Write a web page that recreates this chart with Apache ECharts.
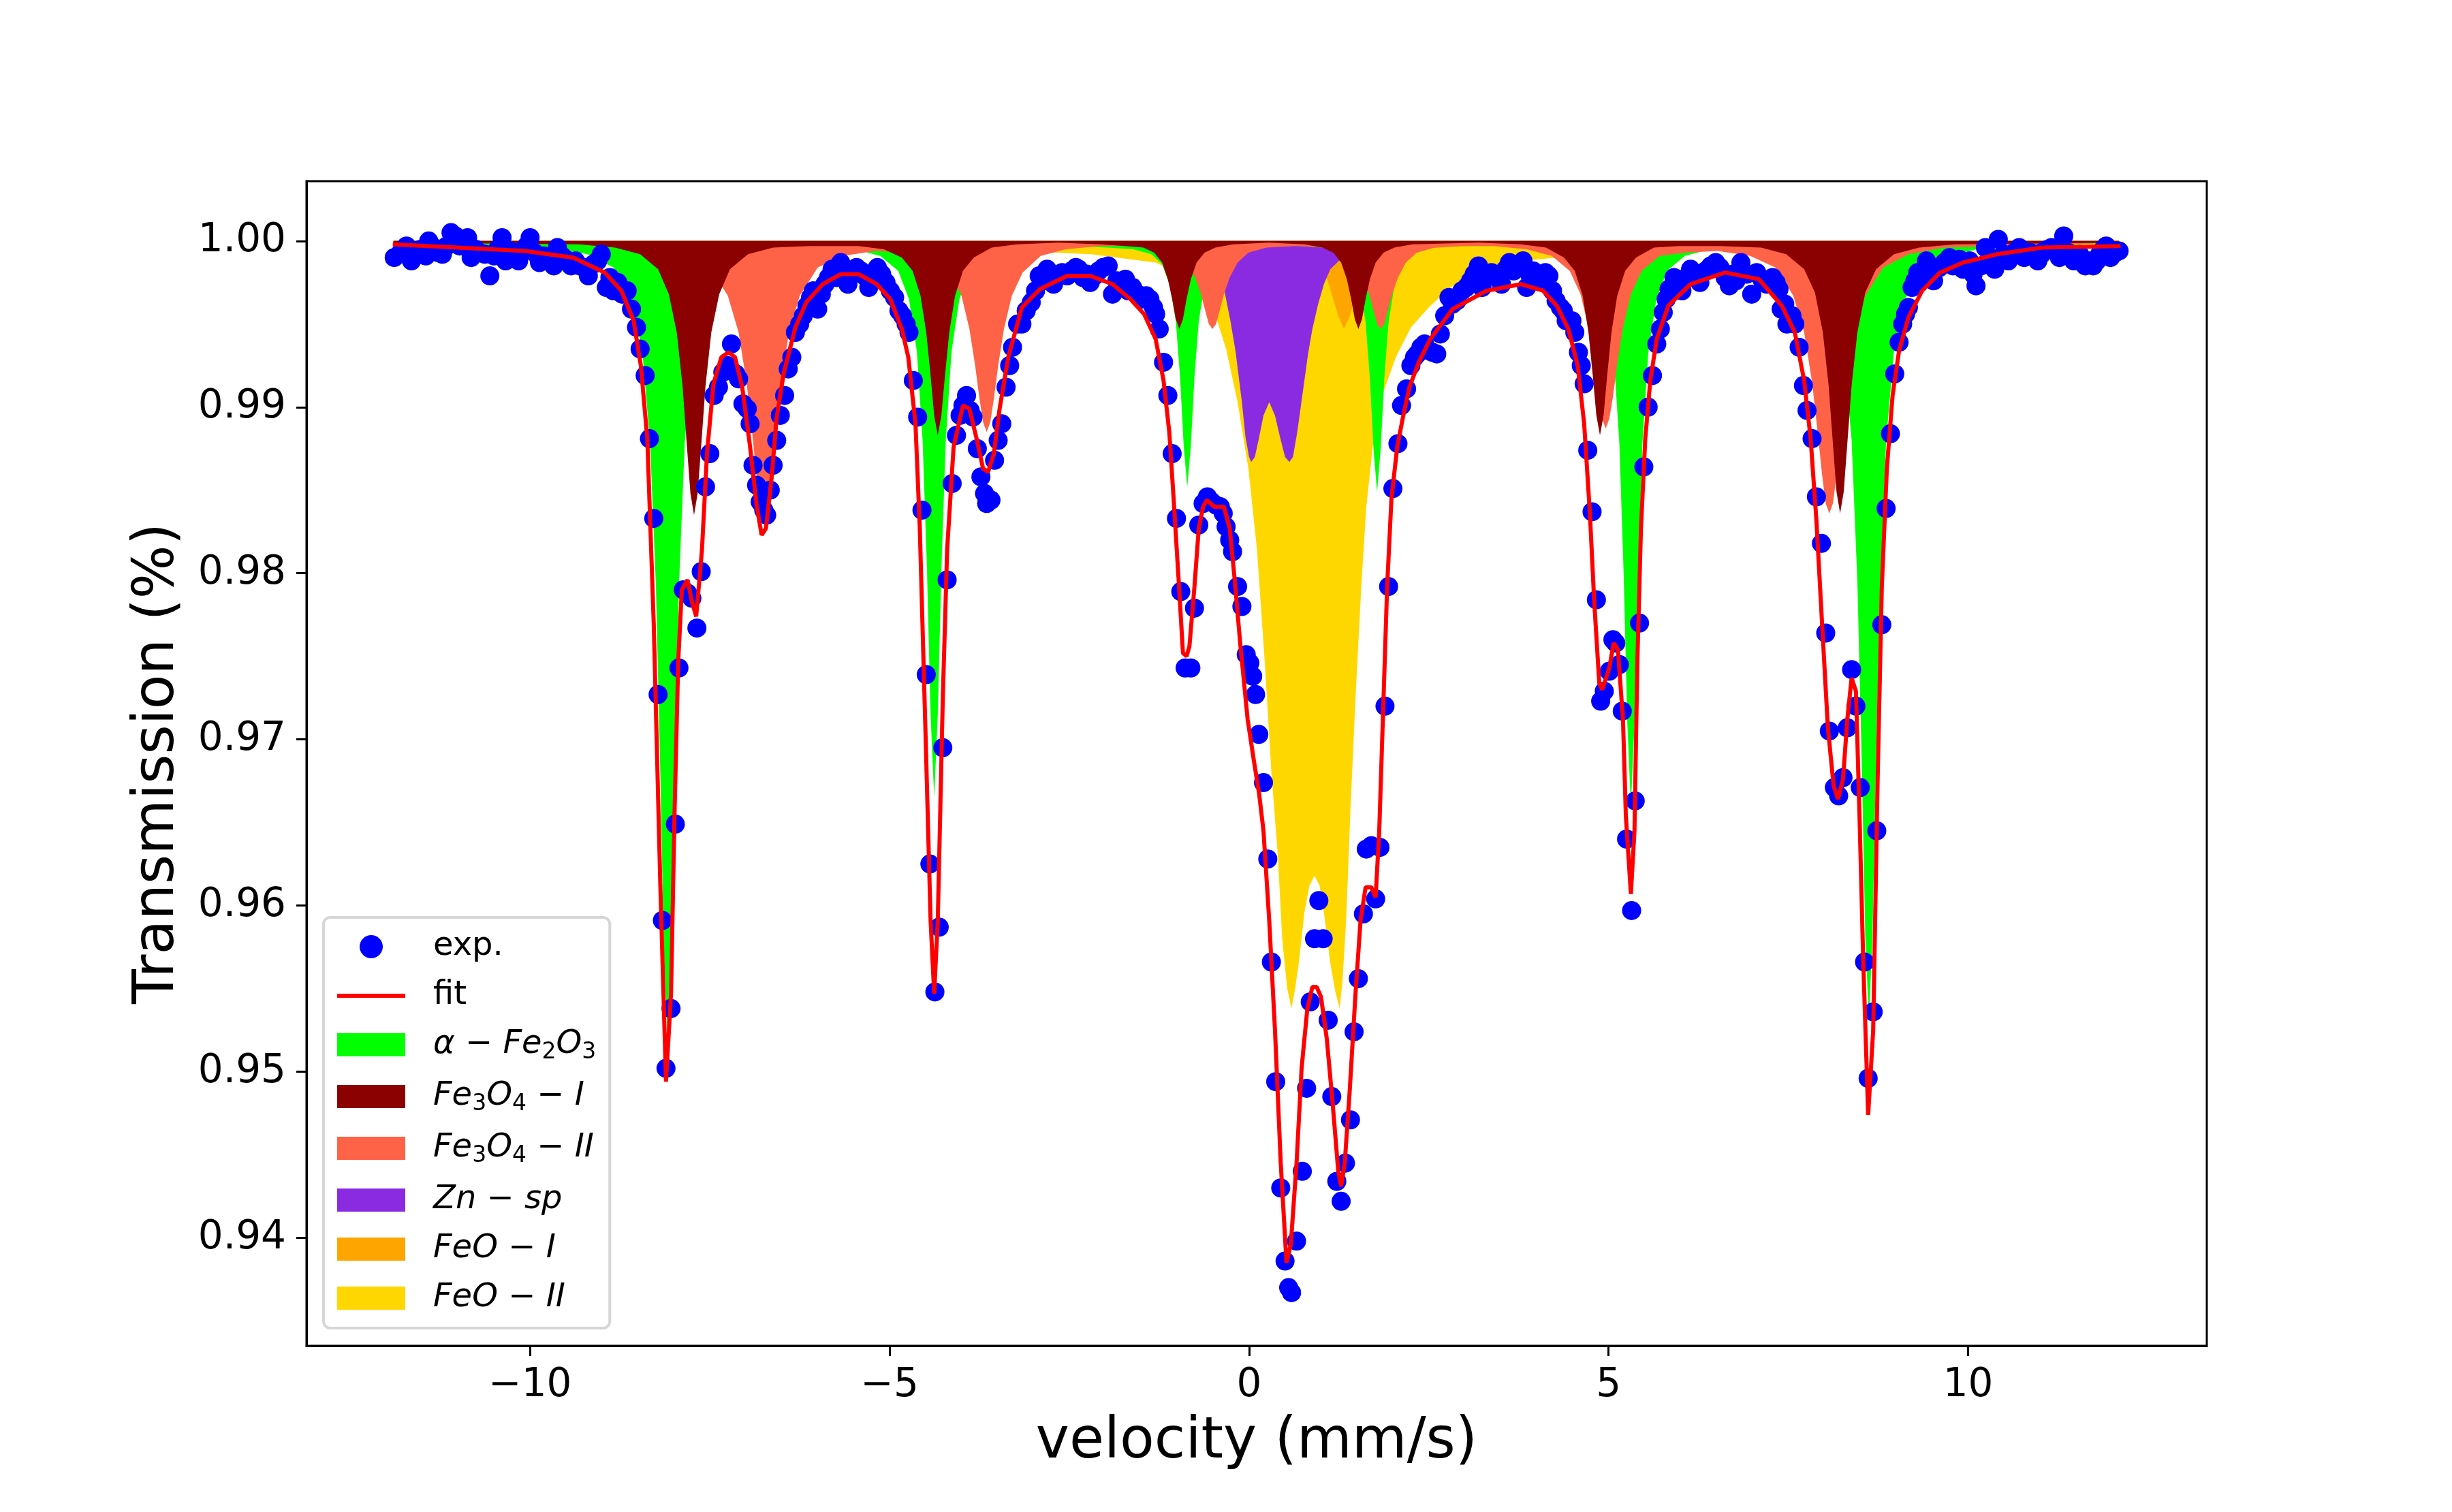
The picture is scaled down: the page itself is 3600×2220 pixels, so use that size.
<!DOCTYPE html>
<html><head><meta charset="utf-8">
<script src="https://cdn.jsdelivr.net/npm/echarts@6/dist/echarts.min.js"></script>
<style>html,body{margin:0;padding:0;background:#fff}#c{width:3600px;height:2220px}</style>
</head><body><div id="c"></div>
<script>
// ---- tick values ----
const xTicks = [-10, -5, 0, 5, 10];
const yTicks = [0.94, 0.95, 0.96, 0.97, 0.98, 0.99, 1.00];

// ---- experimental points [velocity, transmission] ----
const expPoints = [
[-11.89,.9990],[-11.80,.9993],[-11.72,.9997],[-11.65,.9988],[-11.58,.9992],[-11.52,.9995],[-11.45,.9991],[-11.41,1.0000],[-11.34,.9996],[-11.28,.9993],[-11.22,.9992],[-11.16,.9997],[-11.10,1.0005],[-11.04,1.0003],[-10.98,.9997],[-10.92,.9999],[-10.87,1.0002],[-10.82,.9990],[-10.76,.9995],[-10.70,.9993],[-10.63,.9992],[-10.56,.9979],[-10.50,.9991],[-10.45,.9995],[-10.39,1.0002],[-10.34,.9988],[-10.28,.9994],[-10.22,.9993],[-10.16,.9988],[-10.10,.9994],[-10.05,.9997],[-10.00,1.0002],[-9.94,.9993],[-9.87,.9987],[-9.81,.9991],[-9.75,.9990],[-9.67,.9985],[-9.62,.9996],[-9.56,.9991],[-9.50,.9989],[-9.43,.9985],[-9.37,.9988],[-9.31,.9985],[-9.25,.9984],[-9.19,.9979],[-9.12,.9986],[-9.06,.9988],[-9.01,.9992],[-8.94,.9972],[-8.89,.9978],[-8.84,.9970],[-8.78,.9975],[-8.72,.9968],[-8.65,.9970],[-8.59,.9959],[-8.52,.9948],[-8.47,.9935],[-8.40,.9919],[-8.34,.9881],[-8.28,.9833],[-8.22,.9727],[-8.16,.9591],[-8.11,.9502],[-8.04,.9538],[-7.98,.9649],[-7.93,.9743],[-7.87,.9790],[-7.81,.9788],[-7.75,.9785],[-7.68,.9767],[-7.62,.9801],[-7.56,.9852],[-7.50,.9872],[-7.44,.9907],[-7.38,.9912],[-7.32,.9921],[-7.26,.9925],[-7.20,.9938],[-7.14,.9920],[-7.10,.9917],[-7.04,.9902],[-6.98,.9899],[-6.94,.9890],[-6.90,.9865],[-6.85,.9853],[-6.80,.9843],[-6.75,.9838],[-6.71,.9835],[-6.66,.9850],[-6.62,.9865],[-6.57,.9880],[-6.52,.9895],[-6.46,.9907],[-6.41,.9923],[-6.36,.9930],[-6.31,.9945],[-6.25,.9950],[-6.20,.9955],[-6.15,.9961],[-6.10,.9966],[-6.06,.9970],[-6.00,.9959],[-5.95,.9968],[-5.90,.9974],[-5.85,.9978],[-5.80,.9983],[-5.74,.9978],[-5.68,.9987],[-5.63,.9982],[-5.58,.9974],[-5.52,.9980],[-5.46,.9984],[-5.40,.9982],[-5.35,.9979],[-5.29,.9972],[-5.23,.9978],[-5.17,.9984],[-5.11,.9980],[-5.05,.9975],[-4.99,.9970],[-4.93,.9966],[-4.87,.9958],[-4.82,.9955],[-4.77,.9950],[-4.73,.9945],[-4.67,.9916],[-4.61,.9894],[-4.55,.9838],[-4.49,.9739],[-4.44,.9625],[-4.37,.9548],[-4.31,.9587],[-4.26,.9695],[-4.20,.9796],[-4.13,.9854],[-4.07,.9883],[-4.02,.9895],[-3.98,.9901],[-3.93,.9907],[-3.88,.9898],[-3.84,.9894],[-3.78,.9875],[-3.73,.9858],[-3.68,.9848],[-3.65,.9842],[-3.59,.9844],[-3.54,.9868],[-3.49,.9880],[-3.44,.9890],[-3.38,.9912],[-3.33,.9925],[-3.29,.9936],[-3.22,.9950],[-3.16,.9950],[-3.10,.9958],[-3.03,.9963],[-2.97,.9970],[-2.92,.9979],[-2.86,.9976],[-2.81,.9983],[-2.76,.9980],[-2.72,.9974],[-2.66,.9979],[-2.60,.9981],[-2.53,.9979],[-2.47,.9982],[-2.41,.9984],[-2.37,.9983],[-2.31,.9978],[-2.26,.9980],[-2.21,.9975],[-2.15,.9979],[-2.09,.9982],[-2.03,.9984],[-1.96,.9985],[-1.90,.9968],[-1.84,.9976],[-1.77,.9974],[-1.72,.9977],[-1.68,.9970],[-1.62,.9972],[-1.55,.9968],[-1.49,.9965],[-1.43,.9967],[-1.38,.9965],[-1.33,.9960],[-1.30,.9956],[-1.25,.9947],[-1.19,.9927],[-1.13,.9907],[-1.07,.9872],[-1.01,.9833],[-0.95,.9789],[-0.89,.9743],[-0.81,.9743],[-0.76,.9779],[-0.70,.9829],[-0.64,.9842],[-0.58,.9846],[-0.52,.9843],[-0.46,.9841],[-0.40,.9840],[-0.36,.9836],[-0.32,.9828],[-0.27,.9820],[-0.23,.9813],[-0.16,.9792],[-0.10,.9780],[-0.04,.9751],[0.01,.9746],[0.05,.9738],[0.09,.9727],[0.135,.9703],[0.20,.9674],[0.26,.9628],[0.31,.9566],[0.37,.9494],[0.44,.9430],[0.50,.9386],[0.55,.9370],[0.59,.9367],[0.66,.9398],[0.74,.9440],[0.80,.9490],[0.85,.9542],[0.91,.9580],[0.97,.9603],[1.03,.9580],[1.10,.9531],[1.15,.9485],[1.22,.9434],[1.28,.9422],[1.34,.9445],[1.41,.9471],[1.46,.9524],[1.52,.9556],[1.59,.9595],[1.63,.9634],[1.70,.9636],[1.76,.9604],[1.82,.9635],[1.89,.9720],[1.94,.9792],[2.00,.9851],[2.07,.9878],[2.12,.9901],[2.19,.9911],[2.25,.9925],[2.30,.9930],[2.34,.9932],[2.39,.9936],[2.44,.9938],[2.50,.9934],[2.55,.9933],[2.61,.9932],[2.66,.9944],[2.72,.9955],[2.78,.9966],[2.83,.9962],[2.89,.9964],[2.96,.9970],[3.02,.9972],[3.08,.9976],[3.13,.9980],[3.19,.9985],[3.24,.9972],[3.30,.9980],[3.37,.9981],[3.44,.9978],[3.51,.9974],[3.57,.9983],[3.62,.9987],[3.68,.9982],[3.74,.9986],[3.81,.9988],[3.86,.9972],[3.91,.9979],[3.95,.9982],[4.01,.9980],[4.07,.9977],[4.12,.9981],[4.17,.9979],[4.22,.9970],[4.27,.9964],[4.33,.9960],[4.37,.9958],[4.41,.9952],[4.49,.9952],[4.53,.9945],[4.58,.9933],[4.62,.9925],[4.66,.9914],[4.71,.9874],[4.77,.9837],[4.83,.9784],[4.89,.9723],[4.94,.9729],[5.01,.9741],[5.06,.9760],[5.10,.9758],[5.15,.9745],[5.19,.9717],[5.25,.9640],[5.32,.9597],[5.37,.9663],[5.43,.9770],[5.49,.9864],[5.55,.9900],[5.61,.9919],[5.67,.9938],[5.72,.9947],[5.76,.9957],[5.80,.9965],[5.84,.9971],[5.91,.9978],[5.97,.9975],[6.02,.9970],[6.08,.9978],[6.14,.9983],[6.20,.9980],[6.27,.9975],[6.35,.9982],[6.42,.9985],[6.49,.9987],[6.55,.9984],[6.62,.9978],[6.68,.9973],[6.73,.9980],[6.77,.9976],[6.84,.9987],[6.92,.9980],[6.99,.9968],[7.06,.9981],[7.13,.9977],[7.20,.9974],[7.28,.9978],[7.33,.9975],[7.37,.9971],[7.40,.9959],[7.45,.9962],[7.48,.9950],[7.55,.9955],[7.59,.9950],[7.65,.9936],[7.71,.9913],[7.76,.9898],[7.83,.9881],[7.89,.9846],[7.96,.9818],[8.02,.9764],[8.07,.9705],[8.14,.9671],[8.20,.9666],[8.26,.9677],[8.32,.9707],[8.38,.9742],[8.44,.9720],[8.50,.9671],[8.56,.9566],[8.61,.9496],[8.68,.9536],[8.73,.9645],[8.80,.9769],[8.86,.9839],[8.92,.9884],[8.98,.9920],[9.04,.9939],[9.09,.9950],[9.13,.9956],[9.17,.9960],[9.22,.9972],[9.26,.9976],[9.30,.9981],[9.36,.9977],[9.42,.9988],[9.47,.9982],[9.52,.9976],[9.60,.9984],[9.67,.9987],[9.74,.9990],[9.79,.9985],[9.83,.9986],[9.88,.9989],[9.93,.9983],[9.98,.9986],[10.02,.9988],[10.07,.9980],[10.11,.9973],[10.18,.9985],[10.24,.9996],[10.30,.9990],[10.37,.9983],[10.42,1.0001],[10.49,.9992],[10.56,.9988],[10.64,.9993],[10.71,.9996],[10.78,.9990],[10.83,.9993],[10.87,.9993],[10.93,.9990],[10.97,.9988],[11.02,.9992],[11.06,.9994],[11.11,.9995],[11.16,.9996],[11.22,.9994],[11.27,.9990],[11.33,1.0003],[11.40,.9993],[11.47,.9988],[11.51,.9990],[11.55,.9992],[11.59,.9987],[11.63,.9985],[11.68,.9988],[11.74,.9985],[11.79,.9988],[11.83,.9992],[11.88,.9995],[11.92,.9997],[11.98,.9990],[12.05,.9993],[12.10,.9994]
];

// ---- fitted curve ----
const fitPoints = [
[-11.91,.9998],[-11.0,.9996],[-10.07,.9994],[-9.4,.9990],[-8.96,.9981],[-8.73,.9970],[-8.56,.9952],[-8.46,.9925],[-8.37,.9881],[-8.28,.9769],[-8.19,.9614],[-8.11,.9494],[-8.04,.9547],[-7.99,.9658],[-7.94,.9747],[-7.89,.9790],[-7.81,.9796],[-7.75,.9783],[-7.69,.9774],[-7.61,.9814],[-7.54,.9872],[-7.45,.9914],[-7.34,.9930],[-7.24,.9933],[-7.15,.9930],[-7.05,.9912],[-6.94,.9876],[-6.85,.9841],[-6.78,.9823],[-6.72,.9827],[-6.64,.9858],[-6.57,.9894],[-6.47,.9921],[-6.31,.9948],[-6.16,.9963],[-5.93,.9974],[-5.68,.9980],[-5.43,.9980],[-5.18,.9974],[-4.99,.9965],[-4.83,.9947],[-4.74,.9930],[-4.64,.9890],[-4.58,.9827],[-4.50,.9703],[-4.43,.9591],[-4.38,.9547],[-4.33,.9591],[-4.26,.9725],[-4.20,.9814],[-4.11,.9876],[-3.98,.9901],[-3.89,.9899],[-3.79,.9881],[-3.70,.9863],[-3.63,.9861],[-3.55,.9872],[-3.47,.9899],[-3.35,.9930],[-3.16,.9960],[-2.91,.9971],[-2.53,.9979],[-2.21,.9979],[-1.90,.9974],[-1.65,.9965],[-1.46,.9956],[-1.30,.9941],[-1.19,.9916],[-1.11,.9885],[-1.05,.9845],[-0.98,.9796],[-0.92,.9752],[-0.87,.9750],[-0.83,.9756],[-0.76,.9792],[-0.70,.9827],[-0.64,.9840],[-0.59,.9844],[-0.48,.9840],[-0.35,.9840],[-0.27,.9827],[-0.20,.9796],[-0.12,.9756],[-0.02,.9712],[0.06,.9689],[0.14,.9667],[0.20,.9645],[0.28,.9591],[0.36,.9525],[0.44,.9445],[0.52,.9385],[0.58,.9396],[0.66,.9445],[0.73,.9502],[0.81,.9538],[0.88,.9551],[0.94,.9551],[1.00,.9545],[1.08,.9520],[1.16,.9482],[1.24,.9440],[1.28,.9431],[1.33,.9445],[1.40,.9489],[1.48,.9547],[1.55,.9591],[1.62,.9611],[1.70,.9611],[1.76,.9605],[1.81,.9645],[1.87,.9725],[1.92,.9792],[1.98,.9845],[2.06,.9876],[2.14,.9894],[2.23,.9912],[2.36,.9927],[2.52,.9941],[2.83,.9959],[3.30,.9970],[3.78,.9974],[4.09,.9970],[4.28,.9961],[4.44,.9947],[4.57,.9925],[4.66,.9890],[4.74,.9836],[4.80,.9783],[4.87,.9734],[4.91,.9730],[5.01,.9743],[5.07,.9758],[5.13,.9754],[5.20,.9712],[5.24,.9654],[5.31,.9607],[5.36,.9645],[5.40,.9747],[5.45,.9827],[5.51,.9881],[5.58,.9916],[5.67,.9941],[5.83,.9961],[6.14,.9974],[6.62,.9981],[7.09,.9977],[7.41,.9961],[7.59,.9945],[7.72,.9916],[7.81,.9881],[7.89,.9832],[7.97,.9769],[8.05,.9707],[8.13,.9672],[8.19,.9664],[8.26,.9676],[8.32,.9712],[8.38,.9737],[8.44,.9729],[8.49,.9654],[8.54,.9569],[8.61,.9474],[8.68,.9525],[8.74,.9672],[8.80,.9792],[8.87,.9863],[8.95,.9907],[9.04,.9934],[9.17,.9954],[9.36,.9970],[9.61,.9981],[9.93,.9987],[10.40,.9992],[11.03,.9996],[12.12,.9997]
];

// ---- sub-spectra (filled down from 1.0) ----
const alphaFe2O3 = [
[-11.9,.9999],[-9.7,.9996],[-9.2,.9992],[-8.84,.9984],[-8.59,.9965],[-8.44,.9934],[-8.33,.9878],[-8.25,.9792],[-8.19,.9682],[-8.14,.9574],[-8.09,.952],[-8.04,.9574],[-7.99,.9682],[-7.93,.9792],[-7.85,.9878],[-7.74,.9934],[-7.59,.9965],[-7.34,.9984],[-7.0,.9992],[-6.5,.9995],[-6.24,.9996],[-5.98,.9996],[-5.48,.9995],[-5.13,.9991],[-4.88,.9982],[-4.73,.9965],[-4.62,.9933],[-4.54,.9879],[-4.48,.9802],[-4.43,.9715],[-4.38,.9665],[-4.33,.9715],[-4.28,.9802],[-4.22,.9879],[-4.14,.9933],[-4.03,.9965],[-3.88,.9982],[-3.63,.9991],[-3.28,.9995],[-2.78,.9997],[-2.62,.9998],[-2.46,.9997],[-1.96,.9996],[-1.61,.9995],[-1.36,.9992],[-1.21,.9986],[-1.10,.9973],[-1.02,.9952],[-0.96,.9918],[-0.91,.9877],[-0.86,.9852],[-0.81,.9877],[-0.76,.9918],[-0.70,.9952],[-0.62,.9973],[-0.51,.9986],[-0.36,.9992],[-0.11,.9996],[0.24,.9997],[0.46,.9998],[0.68,.9997],[1.03,.9996],[1.28,.9992],[1.43,.9985],[1.54,.9973],[1.62,.9951],[1.68,.9917],[1.73,.9875],[1.78,.9849],[1.83,.9875],[1.88,.9917],[1.94,.9951],[2.02,.9973],[2.13,.9985],[2.28,.9992],[2.53,.9996],[2.88,.9997],[3.38,.9997],[3.55,.9998],[3.71,.9997],[4.21,.9995],[4.56,.9991],[4.81,.9982],[4.96,.9964],[5.07,.9932],[5.15,.9878],[5.21,.9799],[5.26,.971],[5.31,.966],[5.36,.971],[5.41,.9799],[5.47,.9878],[5.55,.9932],[5.66,.9964],[5.81,.9982],[6.06,.9991],[6.41,.9995],[6.91,.9995],[7.02,.9995],[7.52,.9991],[7.87,.9983],[8.12,.9965],[8.27,.9934],[8.38,.988],[8.46,.9795],[8.52,.9688],[8.57,.9582],[8.62,.953],[8.67,.9582],[8.72,.9688],[8.78,.9795],[8.86,.988],[8.97,.9934],[9.12,.9965],[9.37,.9983],[9.72,.9991],[10.22,.9996],[12.1,.9999]
];
const fe3o4I = [
[-11.9,.9999],[-9.32,.9998],[-8.82,.9996],[-8.47,.9992],[-8.22,.9983],[-8.07,.9968],[-7.96,.9945],[-7.88,.9913],[-7.82,.9877],[-7.77,.9848],[-7.72,.9835],[-7.67,.9848],[-7.62,.9877],[-7.56,.9913],[-7.48,.9945],[-7.37,.9968],[-7.22,.9983],[-6.97,.9992],[-6.62,.9996],[-6.12,.9997],[-5.43,.9997],[-5.08,.9995],[-4.83,.999],[-4.68,.9982],[-4.57,.9967],[-4.49,.9945],[-4.43,.9919],[-4.38,.9895],[-4.33,.9883],[-4.28,.9895],[-4.23,.9919],[-4.17,.9945],[-4.09,.9967],[-3.98,.9982],[-3.83,.999],[-3.58,.9996],[-3.23,.9998],[-2.65,.9999],[-2.07,.9998],[-1.72,.9997],[-1.47,.9996],[-1.32,.9993],[-1.21,.9987],[-1.13,.9977],[-1.07,.9965],[-1.02,.9953],[-0.97,.9947],[-0.92,.9953],[-0.87,.9965],[-0.81,.9977],[-0.73,.9987],[-0.62,.9993],[-0.47,.9996],[-0.22,.9998],[0.275,.9999],[0.77,.9998],[1.02,.9996],[1.17,.9993],[1.28,.9987],[1.36,.9977],[1.42,.9965],[1.47,.9953],[1.52,.9947],[1.57,.9953],[1.62,.9965],[1.68,.9977],[1.76,.9987],[1.87,.9993],[2.02,.9996],[2.27,.9998],[3.2,.9999],[3.78,.9998],[4.13,.9996],[4.38,.999],[4.53,.9982],[4.64,.9967],[4.72,.9945],[4.78,.9919],[4.83,.9895],[4.88,.9883],[4.93,.9895],[4.98,.9919],[5.04,.9945],[5.12,.9967],[5.23,.9982],[5.38,.999],[5.63,.9996],[5.98,.9997],[6.55,.9997],[7.12,.9996],[7.47,.9992],[7.72,.9983],[7.87,.9969],[7.98,.9945],[8.06,.9913],[8.12,.9878],[8.17,.9849],[8.22,.9836],[8.27,.9849],[8.32,.9878],[8.38,.9913],[8.46,.9945],[8.57,.9969],[8.72,.9983],[8.97,.9992],[9.32,.9996],[9.82,.9998],[12.1,.9999]
];
const fe3o4II = [
[-11.9,.9999],[-9.5,.9999],[-8.35,.9996],[-7.85,.9992],[-7.5,.9984],[-7.25,.9967],[-7.1,.9945],[-6.99,.9915],[-6.91,.9884],[-6.85,.9859],[-6.8,.9842],[-6.75,.9836],[-6.7,.9842],[-6.65,.9859],[-6.59,.9884],[-6.51,.9915],[-6.4,.9945],[-6.25,.9967],[-6.0,.9984],[-5.65,.9991],[-5.2,.9994],[-4.75,.9993],[-4.4,.9989],[-4.15,.998],[-4.0,.9967],[-3.89,.9947],[-3.81,.9925],[-3.75,.9905],[-3.7,.9891],[-3.65,.9885],[-3.6,.9891],[-3.55,.9905],[-3.49,.9925],[-3.41,.9947],[-3.3,.9967],[-3.15,.9981],[-2.9,.9991],[-2.55,.9995],[-2.08,.9997],[-1.61,.9997],[-1.26,.9996],[-1.01,.9993],[-0.86,.9987],[-0.75,.9978],[-0.67,.9968],[-0.61,.9958],[-0.56,.995],[-0.51,.9947],[-0.46,.995],[-0.41,.9958],[-0.35,.9968],[-0.27,.9978],[-0.16,.9987],[-0.01,.9993],[0.24,.9996],[0.66,.9997],[1.08,.9996],[1.33,.9993],[1.48,.9987],[1.59,.9978],[1.67,.9968],[1.73,.9958],[1.78,.995],[1.83,.9947],[1.88,.995],[1.93,.9958],[1.99,.9968],[2.07,.9978],[2.18,.9987],[2.33,.9993],[2.58,.9996],[2.93,.9997],[3.4,.9997],[3.86,.9995],[4.21,.9991],[4.46,.9982],[4.61,.9968],[4.72,.9948],[4.8,.9926],[4.86,.9906],[4.91,.9893],[4.96,.9887],[5.01,.9893],[5.06,.9906],[5.12,.9926],[5.2,.9948],[5.31,.9968],[5.46,.9982],[5.71,.9991],[6.06,.9993],[6.52,.9994],[6.97,.9991],[7.32,.9984],[7.57,.9967],[7.72,.9945],[7.83,.9915],[7.91,.9884],[7.97,.9859],[8.02,.9842],[8.07,.9836],[8.12,.9842],[8.17,.9859],[8.23,.9884],[8.31,.9915],[8.42,.9945],[8.57,.9967],[8.82,.9984],[9.17,.9992],[9.67,.9996],[12.1,.9999]
];
const znSp = [
[-11.9,.9999],[-2.0,.9998],[-1.2,.9995],[-0.8,.9991],[-0.55,.9986],[-0.45,.9982],[-0.38,.9978],[-0.32,.9965],[-0.26,.9952],[-0.19,.9934],[-0.10,.9903],[-0.05,.9882],[0.0,.9870],[0.03,.9867],[0.08,.9870],[0.14,.9882],[0.20,.9895],[0.28,.9903],[0.36,.9895],[0.43,.9882],[0.50,.9870],[0.56,.9867],[0.61,.9870],[0.67,.9885],[0.75,.9910],[0.82,.9932],[0.88,.9947],[0.96,.9962],[1.04,.9974],[1.13,.9983],[1.25,.9988],[1.5,.9992],[1.9,.9995],[2.8,.9998],[12.1,.9999]
];
const feoI = [
[-11.9,.9999],[-2.0,.9998],[-0.8,.9995],[-0.3,.9988],[0.0,.9975],[0.15,.9960],[0.30,.9947],[0.45,.9960],[0.60,.9975],[0.80,.9984],[0.95,.9985],[1.08,.9978],[1.17,.9965],[1.24,.9955],[1.32,.9947],[1.40,.9955],[1.47,.9965],[1.56,.9978],[1.75,.9988],[2.2,.9995],[3.5,.9998],[12.1,.9999]
];
const feoII = [
[-11.9,.9998],[-6.0,.9996],[-3.2,.9994],[-2.2,.9992],[-1.3,.9987],[-0.95,.9980],[-0.7,.9972],[-0.48,.9957],[-0.32,.9935],[-0.16,.9903],[-0.01,.9863],[0.11,.9814],[0.22,.9745],[0.31,.9680],[0.40,.9630],[0.46,.9580],[0.53,.9550],[0.59,.9538],[0.64,.9550],[0.69,.9565],[0.77,.9596],[0.84,.9612],[0.91,.9618],[0.98,.9612],[1.04,.9596],[1.13,.9565],[1.20,.9548],[1.26,.9538],[1.30,.9555],[1.35,.9591],[1.41,.9658],[1.48,.9725],[1.56,.9792],[1.63,.9840],[1.73,.9880],[1.86,.9908],[2.04,.9930],[2.25,.9948],[2.52,.9961],[2.8,.9972],[3.2,.9982],[3.8,.9988],[5.0,.9993],[8.0,.9996],[12.1,.9998]
];

// ---- names / colours ----
const names = ['exp.', 'fit', 'α − Fe2O3', 'Fe3O4 − I', 'Fe3O4 − II', 'Zn − sp', 'FeO − I', 'FeO − II'];
const legendRich = {
  'exp.': '{n|exp.}',
  'fit': '{n|fit}',
  'α − Fe2O3': '{i|α }{n|−}{i| Fe}{s|2}{i|O}{s|3}',
  'Fe3O4 − I': '{i|Fe}{s|3}{i|O}{s|4}{n| − }{i|I}',
  'Fe3O4 − II': '{i|Fe}{s|3}{i|O}{s|4}{n| − }{i|II}',
  'Zn − sp': '{i|Zn }{n|−}{i| sp}',
  'FeO − I': '{i|FeO }{n|−}{i| I}',
  'FeO − II': '{i|FeO }{n|−}{i| II}'
};

function area(name, data, color) {
  return {
    name: name, type: 'line', data: data, color: color,
    symbol: 'none', showSymbol: false, smooth: false, silent: true,
    lineStyle: { width: 0, color: color },
    itemStyle: { color: color },
    areaStyle: { color: color, opacity: 1, origin: 1 },
    z: 2
  };
}

const FONT = 'DejaVu Sans';
const chart = echarts.init(document.getElementById('c'), null, { renderer: 'canvas' });
chart.setOption({
  animation: false,
  backgroundColor: '#ffffff',
  textStyle: { fontFamily: FONT },
  grid: { left: 450, right: 360, top: 266, bottom: 244, show: true, borderColor: '#000', borderWidth: 3, containLabel: false },
  xAxis: {
    type: 'value', min: -13.11, max: 13.32,
    name: 'velocity (mm/s)', nameLocation: 'middle', nameGap: 101,
    nameTextStyle: { fontSize: 83, color: '#000', fontFamily: FONT },
    axisLine: { show: true, onZero: false, lineStyle: { color: '#000', width: 3 } },
    axisTick: { show: true, length: 15, lineStyle: { color: '#000', width: 3 }, customValues: xTicks },
    axisLabel: { customValues: xTicks, fontSize: 58, color: '#000', margin: 30, fontFamily: FONT,
      formatter: function (v) { return v < 0 ? '\u2212' + Math.abs(v) : String(v); } },
    splitLine: { show: false }
  },
  yAxis: {
    type: 'value', min: 0.9335, max: 1.0036,
    name: 'Transmission (%)', nameLocation: 'middle', nameGap: 176,
    nameTextStyle: { fontSize: 83, color: '#000', fontFamily: FONT },
    axisLine: { show: true, onZero: false, lineStyle: { color: '#000', width: 3 } },
    axisTick: { show: true, length: 15, lineStyle: { color: '#000', width: 3 }, customValues: yTicks },
    axisLabel: { customValues: yTicks, fontSize: 58, color: '#000', margin: 30, fontFamily: FONT,
      formatter: function (v) { return v.toFixed(2); } },
    splitLine: { show: false }
  },
  legend: {
    orient: 'vertical', left: 475, top: 1347,
    itemWidth: 100, itemHeight: 34, itemGap: 24,
    padding: [19, 20, 20, 20],
    borderColor: '#d6d6d6', borderWidth: 4, borderRadius: 10,
    backgroundColor: 'rgba(255,255,255,0.8)',
    selectedMode: false,
    data: [
      { name: names[0], icon: 'circle' },
      { name: names[1], icon: 'path://M0,0H100V6H0Z' },
      { name: names[2], icon: 'rect' },
      { name: names[3], icon: 'rect' },
      { name: names[4], icon: 'rect' },
      { name: names[5], icon: 'rect' },
      { name: names[6], icon: 'rect' },
      { name: names[7], icon: 'rect' }
    ],
    formatter: function (n) { return legendRich[n] || n; },
    textStyle: {
      fontFamily: FONT, fontSize: 48, color: '#000', padding: [0, 0, 0, 36],
      rich: {
        n: { fontFamily: FONT, fontSize: 48, lineHeight: 56, color: '#000' },
        i: { fontFamily: FONT, fontStyle: 'italic', fontSize: 48, lineHeight: 56, color: '#000' },
        s: { fontFamily: FONT, fontSize: 33, lineHeight: 27, verticalAlign: 'bottom', color: '#000' }
      }
    }
  },
  series: [
    area(names[7], feoII, '#ffd700'),
    area(names[6], feoI, '#ffa500'),
    area(names[5], znSp, '#8a2be2'),
    area(names[2], alphaFe2O3, '#00ff00'),
    area(names[4], fe3o4II, '#ff6347'),
    area(names[3], fe3o4I, '#8b0000'),
    { name: names[0], type: 'scatter', data: expPoints, symbol: 'circle', symbolSize: 28,
      itemStyle: { color: '#0000ff', opacity: 1 }, z: 3 },
    { name: names[1], type: 'line', data: fitPoints, color: '#ff0000', symbol: 'none', showSymbol: false,
      smooth: false, lineStyle: { color: '#ff0000', width: 6 }, itemStyle: { color: '#ff0000' }, z: 4 }
  ]
});
</script>
</body></html>
